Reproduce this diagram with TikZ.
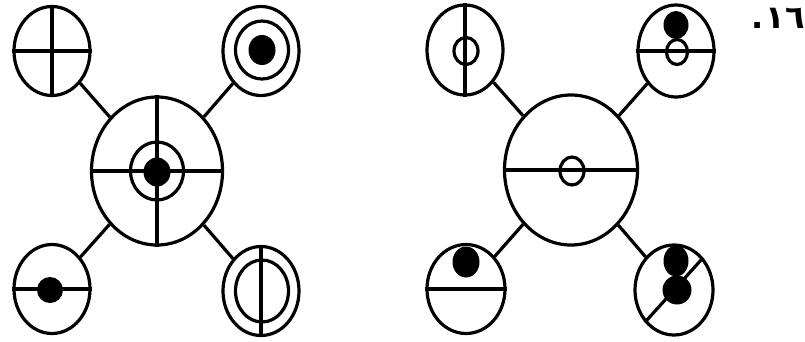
\documentclass[tikz,border=0pt]{standalone}
\usepackage{fontspec}
\newfontfamily\arabicfont[Script=Arabic]{DejaVu Sans}
\usetikzlibrary{shapes.geometric}
\begin{document}
\begin{tikzpicture}[x=1pt,y=-1pt,line width=3.2pt,
  ell/.style={ellipse,draw,inner sep=0pt,minimum width=#1},
  sat/.style={ell=76pt,minimum height=89pt},
  hub/.style={ell=131pt,minimum height=148pt},
  ring/.style={ell=53pt,minimum height=58pt},
  mini/.style={ell=24pt,minimum height=27pt},
  dot/.style={ellipse,fill=black,draw=none,inner sep=0pt,minimum width=27pt,minimum height=29pt}]
\useasboundingbox (0,0) rectangle (805,341);
% ---------- left figure ----------
\node[hub] (lc) at (157,171) {};
\node[sat] (ltl) at (52,51) {};
\node[sat] (ltr) at (261,51) {};
\node[sat] (lbl) at (52,289) {};
\node[sat] (lbr) at (261,291) {};
\draw (ltl) -- (lc) (ltr) -- (lc) (lbl) -- (lc) (lbr) -- (lc);
% centre
\draw (lc.north) -- (lc.south) (lc.west) -- (lc.east);
\node[ring] (lcr) at (157,171) {};
\node[dot] (lcd) at (157,172) {};
% top-left
\draw (ltl.north) -- (ltl.south) (ltl.west) -- (ltl.east);
% top-right
\node[ring] (ltrr) at (262,50) {};
\node[dot,minimum height=30pt] (ltrd) at (262,50) {};
% bottom-left
\draw (lbl.west) -- (lbl.east);
\node[dot,minimum width=26pt,minimum height=26pt] (lbld) at (50,290) {};
% bottom-right
\node[ring,minimum height=62pt] (lbrr) at (262,291) {};
\draw (lbr.north) -- (lbr.south);
% ---------- right figure ----------
\node[hub,minimum width=133pt,minimum height=150pt] (rc) at (571,170) {};
\node[sat,minimum height=90pt] (rtl) at (465,50) {};
\node[sat,minimum height=92pt] (rtr) at (676,51) {};
\node[sat,minimum width=78pt] (rbl) at (466,289) {};
\node[sat,minimum width=78pt,minimum height=90pt] (rbr) at (674,290) {};
\draw (rtl) -- (rc) (rtr) -- (rc) (rbl) -- (rc) (rbr) -- (rc);
% centre
\draw (rc.west) -- (rc.east);
\node[mini,minimum height=28pt] (rcm) at (572,171) {};
% top-left
\draw (rtl.north) -- (rtl.south);
\node[mini] (rtlm) at (466,51) {};
% top-right
\node[dot,minimum width=25pt,minimum height=28pt] (rtrd) at (676,25) {};
\draw (rtr.west) -- (rtr.east);
\node[mini,minimum width=21pt,minimum height=25pt] (rtrm) at (677,52) {};
% bottom-left
\draw (rbl.west) -- (rbl.east);
\node[dot,minimum width=27pt,minimum height=31pt] (rbld) at (466,262) {};
% bottom-right
\node[dot,minimum width=25pt,minimum height=31pt] (rbrd1) at (676,261) {};
\node[dot,minimum width=29pt,minimum height=29pt] (rbrd2) at (677,290) {};
\draw (rbr.48) -- (rbr.228);
% label
\node[inner sep=0pt] (lab) at (778,18) {\arabicfont\bfseries\fontsize{32}{32}\selectfont\hbox{.}\kern2pt\hbox{١٦}};
\end{tikzpicture}
\end{document}
